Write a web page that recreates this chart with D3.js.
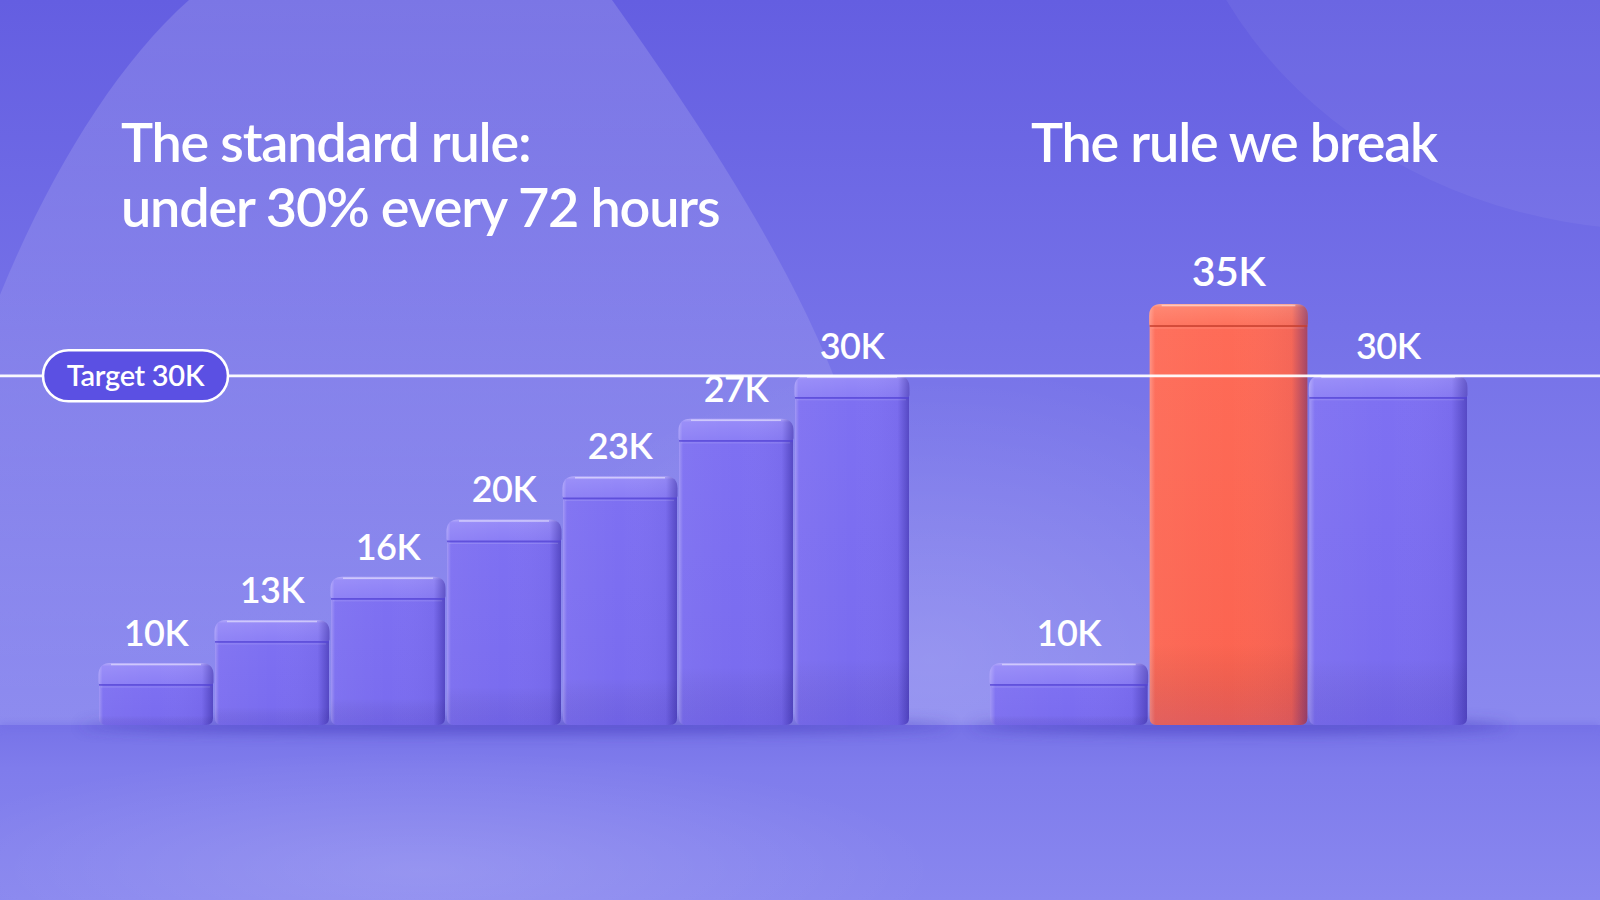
<!DOCTYPE html>
<html>
<head>
<meta charset="utf-8">
<script src="https://cdn.jsdelivr.net/npm/d3@7"></script>
<style>
  html, body { margin: 0; padding: 0; background: #7a75ea; overflow: hidden; }
  svg { display: block; }
</style>
</head>
<body>
<div id="chart"></div>
<script>
// chart data
const leftLabels = ['10K', '13K', '16K', '20K', '23K', '27K', '30K'];
const leftValues = [10000, 13000, 16000, 20000, 23000, 27000, 30000];
const rightLabels = ['10K', '35K', '30K'];
const rightValues = [10000, 35000, 30000];
const rightHighlight = [false, true, false];
const targetValue = 30000;
const targetLabel = 'Target 30K';
const leftTitle = ['The standard rule:', 'under 30% every 72 hours'];
const rightTitle = ['The rule we break'];

const w = 1600;
const h = 900;
const floorY = 725;
const font = 'Lato, "Noto Sans", sans-serif';

const svg = d3.select('#chart').append('svg').attr('width', w).attr('height', h);
const defs = svg.append('defs');

function linGrad(id, x2, y2, stops) {
  const g = defs.append('linearGradient').attr('id', id)
    .attr('x1', 0).attr('y1', 0).attr('x2', x2).attr('y2', y2);
  stops.forEach(s => g.append('stop').attr('offset', s[0]).attr('stop-color', s[1]).attr('stop-opacity', s[2] == null ? 1 : s[2]));
}

function radGrad(id, stops) {
  const g = defs.append('radialGradient').attr('id', id);
  stops.forEach(s => g.append('stop').attr('offset', s[0]).attr('stop-color', s[1]).attr('stop-opacity', s[2]));
}

linGrad('wall', 0, 1, [[0, '#645ee1'], [0.45, '#7571e8'], [1, '#8b89ef']]);
linGrad('floor', 0, 1, [[0, '#7773e8'], [0.25, '#7f7cec'], [1, '#8987ef']]);
linGrad('blobFade', 0, 1, [[0, '#ffffff', 0.15], [0.55, '#ffffff', 0.1], [1, '#ffffff', 0.02]]);
radGrad('glow', [[0, '#ffffff', 0.13], [1, '#ffffff', 0]]);
linGrad('bodyPurple', 0, 1, [[0, '#7e70f2'], [1, '#796bef']]);
linGrad('lidPurple', 0, 1, [[0, '#b3a9fb'], [0.15, '#968af8'], [1, '#8a7df5']]);
linGrad('bodyRed', 0, 1, [[0, '#fe6b57'], [1, '#fb6350']]);
linGrad('lidRed', 0, 1, [[0, '#ffa895'], [0.15, '#ff826d'], [1, '#fe715c']]);
linGrad('edge', 1, 0, [[0, '#ffffff', 0.28], [0.035, '#ffffff', 0.04], [0.5, '#ffffff', 0], [0.9, '#1a0f80', 0.04], [1, '#1a0f80', 0.4]]);
linGrad('bodyShade', 0, 1, [[0, '#000000', 0], [0.8, '#000000', 0], [1, '#2a1fa0', 0.12]]);

defs.append('filter').attr('id', 'blur').attr('x', '-20%').attr('y', '-300%').attr('width', '140%').attr('height', '700%')
  .append('feGaussianBlur').attr('stdDeviation', 7);
defs.append('filter').attr('id', 'soft').attr('x', '-10%').attr('y', '-300%').attr('width', '120%').attr('height', '700%')
  .append('feGaussianBlur').attr('stdDeviation', 3);

defs.append('clipPath').attr('id', 'wallClip')
  .append('rect').attr('width', w).attr('height', floorY);

// background
svg.append('rect').attr('width', w).attr('height', floorY).attr('fill', 'url(#wall)');
svg.append('rect').attr('y', floorY).attr('width', w).attr('height', h - floorY).attr('fill', 'url(#floor)');
svg.append('rect').attr('y', floorY - 2).attr('width', w).attr('height', 6)
  .attr('fill', '#7470e6').attr('opacity', 0.6).attr('filter', 'url(#soft)');

const wallDeco = svg.append('g').attr('clip-path', 'url(#wallClip)');
wallDeco.append('path')
  .attr('d', 'M-10,320 C40,190 110,70 189,0 L612,0 C690,110 800,270 850,420 C878,520 890,630 892,725 L-10,725 Z')
  .attr('fill', 'url(#blobFade)');
wallDeco.append('ellipse').attr('cx', 1660).attr('cy', -200).attr('rx', 490).attr('ry', 430)
  .attr('fill', '#ffffff').attr('opacity', 0.05);
wallDeco.append('ellipse').attr('cx', 930).attr('cy', 660).attr('rx', 430).attr('ry', 300)
  .attr('fill', 'url(#glow)');
svg.append('ellipse').attr('cx', 420).attr('cy', 870).attr('rx', 520).attr('ry', 120)
  .attr('fill', 'url(#glow)');

const yScale = d3.scaleLinear().domain([5680, 35000]).range([floorY, 304]);
const xLeft = d3.scaleBand().domain(d3.range(leftValues.length)).range([98, 910]);
const xRight = d3.scaleBand().domain(d3.range(rightValues.length)).range([989, 1468]);

function barPath(x, y, bw, bh, rt, rb) {
  return 'M' + x + ',' + (y + rt) +
    'Q' + x + ',' + y + ' ' + (x + rt) + ',' + y +
    'H' + (x + bw - rt) +
    'Q' + (x + bw) + ',' + y + ' ' + (x + bw) + ',' + (y + rt) +
    'V' + (y + bh - rb) +
    'Q' + (x + bw) + ',' + (y + bh) + ' ' + (x + bw - rb) + ',' + (y + bh) +
    'H' + (x + rb) +
    'Q' + x + ',' + (y + bh) + ' ' + x + ',' + (y + bh - rb) + 'Z';
}

function drawGroup(values, xScale, hot) {
  const g = svg.append('g');
  const x0 = xScale.range()[0];
  const x1 = xScale.range()[1];

  // floor shadow
  g.append('ellipse')
    .attr('cx', (x0 + x1) / 2 + 12).attr('cy', floorY + 1)
    .attr('rx', (x1 - x0) / 2 + 30).attr('ry', 7)
    .attr('fill', '#3b2fb2').attr('opacity', 0.5)
    .attr('filter', 'url(#blur)');

  const bars = g.selectAll('g.bar').data(values).enter().append('g').attr('class', 'bar');
  const bw = xScale.bandwidth() - 2;
  const lidH = 22;
  const bx = i => xScale(i) + 1;
  const bodyD = (d, i) => barPath(bx(i), yScale(d) + lidH - 6, bw, floorY - yScale(d) - lidH + 6, 4, 7);
  const lidD = (d, i) => barPath(bx(i) - 0.5, yScale(d), bw + 1, lidH, 12, 3);

  // body
  bars.append('path').attr('d', bodyD)
    .attr('fill', (d, i) => hot[i] ? 'url(#bodyRed)' : 'url(#bodyPurple)');
  bars.append('path').attr('d', bodyD).attr('fill', 'url(#edge)');
  bars.append('path').attr('d', bodyD).attr('fill', 'url(#bodyShade)');

  // lid
  bars.append('path').attr('d', lidD)
    .attr('fill', (d, i) => hot[i] ? 'url(#lidRed)' : 'url(#lidPurple)');
  bars.append('path').attr('d', lidD).attr('fill', 'url(#edge)');

  bars.append('line')
    .attr('x1', (d, i) => bx(i)).attr('x2', (d, i) => bx(i) + bw)
    .attr('y1', d => yScale(d) + lidH).attr('y2', d => yScale(d) + lidH)
    .attr('stroke', (d, i) => hot[i] ? '#c63f2e' : '#5343d4')
    .attr('stroke-width', 1.8).attr('opacity', 0.75);
  bars.append('line')
    .attr('x1', (d, i) => bx(i) + 2).attr('x2', (d, i) => bx(i) + bw - 3)
    .attr('y1', d => yScale(d) + lidH + 2).attr('y2', d => yScale(d) + lidH + 2)
    .attr('stroke', '#ffffff').attr('stroke-width', 1).attr('opacity', 0.15);

  // soft top highlight
  bars.append('line')
    .attr('x1', (d, i) => bx(i) + 12).attr('x2', (d, i) => bx(i) + bw - 12)
    .attr('y1', d => yScale(d) + 1.5).attr('y2', d => yScale(d) + 1.5)
    .attr('stroke', '#ffffff').attr('stroke-width', 1.5).attr('opacity', 0.45);

  return g;
}

drawGroup(leftValues, xLeft, leftValues.map(() => false));
drawGroup(rightValues, xRight, rightHighlight);

// target line
const ty = yScale(targetValue);
svg.append('line')
  .attr('x1', 0).attr('x2', w).attr('y1', ty).attr('y2', ty)
  .attr('stroke', '#ffffff').attr('stroke-width', 2.8).attr('opacity', 0.95);

const pill = svg.append('g').attr('transform', 'translate(43,' + (ty - 25.5) + ')');
pill.append('rect')
  .attr('width', 185).attr('height', 51).attr('rx', 25.5)
  .attr('fill', '#5b50e3').attr('stroke', '#ffffff').attr('stroke-width', 2.6);
pill.append('text')
  .attr('x', 92.5).attr('y', 35.5)
  .attr('text-anchor', 'middle')
  .attr('font-family', font).attr('font-size', 29).attr('font-weight', 600)
  .attr('letter-spacing', -0.3)
  .attr('fill', '#ffffff')
  .text(targetLabel);

// value labels
function drawLabels(values, labels, xScale, hot) {
  svg.append('g').selectAll('text').data(values).enter().append('text')
    .attr('x', (d, i) => xScale(i) + xScale.bandwidth() / 2)
    .attr('y', (d, i) => yScale(d) - (hot[i] ? 18 : 17))
    .attr('text-anchor', 'middle')
    .attr('font-family', font).attr('font-size', (d, i) => hot[i] ? 41 : 36).attr('font-weight', 600)
    .attr('letter-spacing', -0.5)
    .attr('fill', '#ffffff')
    .text((d, i) => labels[i]);
}
drawLabels(leftValues, leftLabels, xLeft, leftValues.map(() => false));
drawLabels(rightValues, rightLabels, xRight, rightHighlight);

// titles
svg.append('text')
  .attr('font-family', font).attr('font-size', 54).attr('font-weight', 600)
  .attr('letter-spacing', -1.2)
  .attr('fill', '#ffffff')
  .selectAll('tspan').data(leftTitle).enter().append('tspan')
  .attr('x', 121).attr('y', (d, i) => 162 + i * 65)
  .text(d => d);

svg.append('text')
  .attr('font-family', font).attr('font-size', 54).attr('font-weight', 600)
  .attr('letter-spacing', -1.2)
  .attr('fill', '#ffffff')
  .selectAll('tspan').data(rightTitle).enter().append('tspan')
  .attr('x', 1031).attr('y', 162)
  .text(d => d);
</script>
</body>
</html>
